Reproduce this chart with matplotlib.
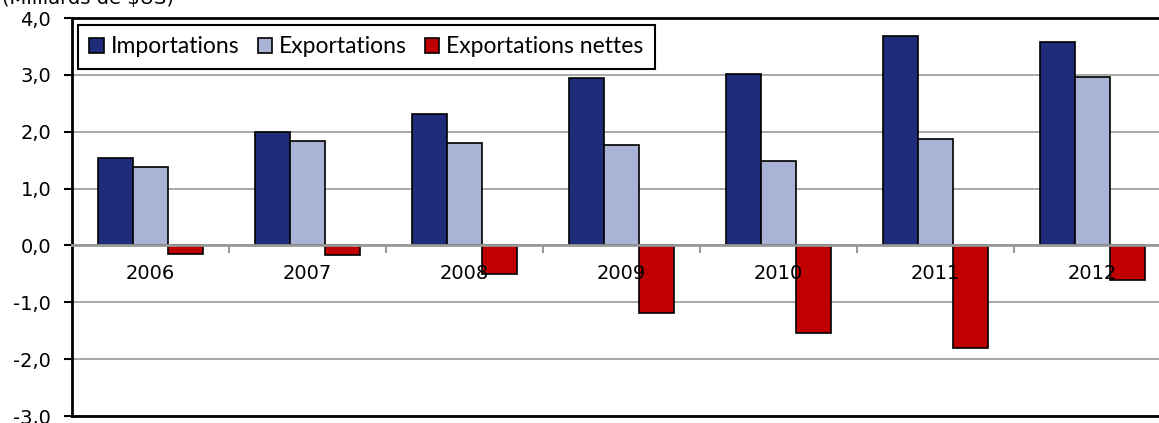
import matplotlib
matplotlib.use("Agg")
from matplotlib import pyplot as plt
import numpy as np

annees = ['2006', '2007', '2008', '2009', '2010', '2011', '2012']
importations = [1.53, 2.00, 2.31, 2.95, 3.01, 3.68, 3.58]
exportations = [1.38, 1.83, 1.80, 1.77, 1.48, 1.87, 2.97]
nettes = [-0.15, -0.17, -0.50, -1.18, -1.54, -1.80, -0.61]

c_imp = '#1F2C7C'
c_exp = '#A9B3D6'
c_net = '#C00000'
gris = '#999999'

fig = plt.figure(figsize=(11.59, 4.23), dpi=100)
ax = fig.add_axes([72/1159, 7/423, 1099/1159, 398/423])

x = np.arange(len(annees))
w = 0.225
ax.bar(x - w, importations, w, color=c_imp, edgecolor='black', linewidth=1.2, label='Importations', zorder=3)
ax.bar(x, exportations, w, color=c_exp, edgecolor='black', linewidth=1.2, label='Exportations', zorder=3)
ax.bar(x + w, nettes, w, color=c_net, edgecolor='black', linewidth=1.2, label='Exportations nettes', zorder=3)

ax.set_xlim(-0.5, 6.5)
ax.set_ylim(-3, 4)
ax.set_yticks(np.arange(-3, 5, 1))
ax.set_yticklabels([f'{v:.1f}'.replace('.', ',') for v in np.arange(-3, 5, 1)], fontsize=14)
ax.tick_params(axis='y', length=6, width=1.5, pad=9, direction='out')
ax.set_xticks([])
ax.yaxis.grid(True, color=gris, linewidth=1.2, zorder=0)
ax.set_axisbelow(True)

for s in ['left', 'top', 'bottom']:
    ax.spines[s].set_color('black')
    ax.spines[s].set_linewidth(2)
ax.spines['right'].set_visible(False)

# axe des categories a la hauteur de zero, par-dessus les barres
sec = ax.secondary_xaxis(3/7)
sec.set_zorder(6)
sec.set_xticks(x)
sec.set_xticklabels(annees, fontsize=14)
sec.set_xticks(x[:-1] + 0.5, minor=True)
sec.tick_params(which='major', length=0, pad=13.5)
sec.tick_params(which='minor', length=6, width=1.5, color=gris, direction='out')
sec.spines['bottom'].set_color(gris)
sec.spines['bottom'].set_linewidth(2)

leg = ax.legend(loc='upper left', bbox_to_anchor=(6/1099, 1 - 7/398), ncol=3,
                frameon=True, fancybox=False, framealpha=1, edgecolor='black',
                prop={'family': 'Lato', 'size': 16.5}, handlelength=0.62, handleheight=0.62,
                handletextpad=0.3, columnspacing=0.8, borderpad=0.5, borderaxespad=0)
leg.get_frame().set_linewidth(1.5)
leg.set_zorder(10)

fig.text(2/1159, 1 - 4/423, '(Milliards de $US)', fontsize=14, ha='left', va='baseline')

fig.savefig('out.png', dpi=100)
